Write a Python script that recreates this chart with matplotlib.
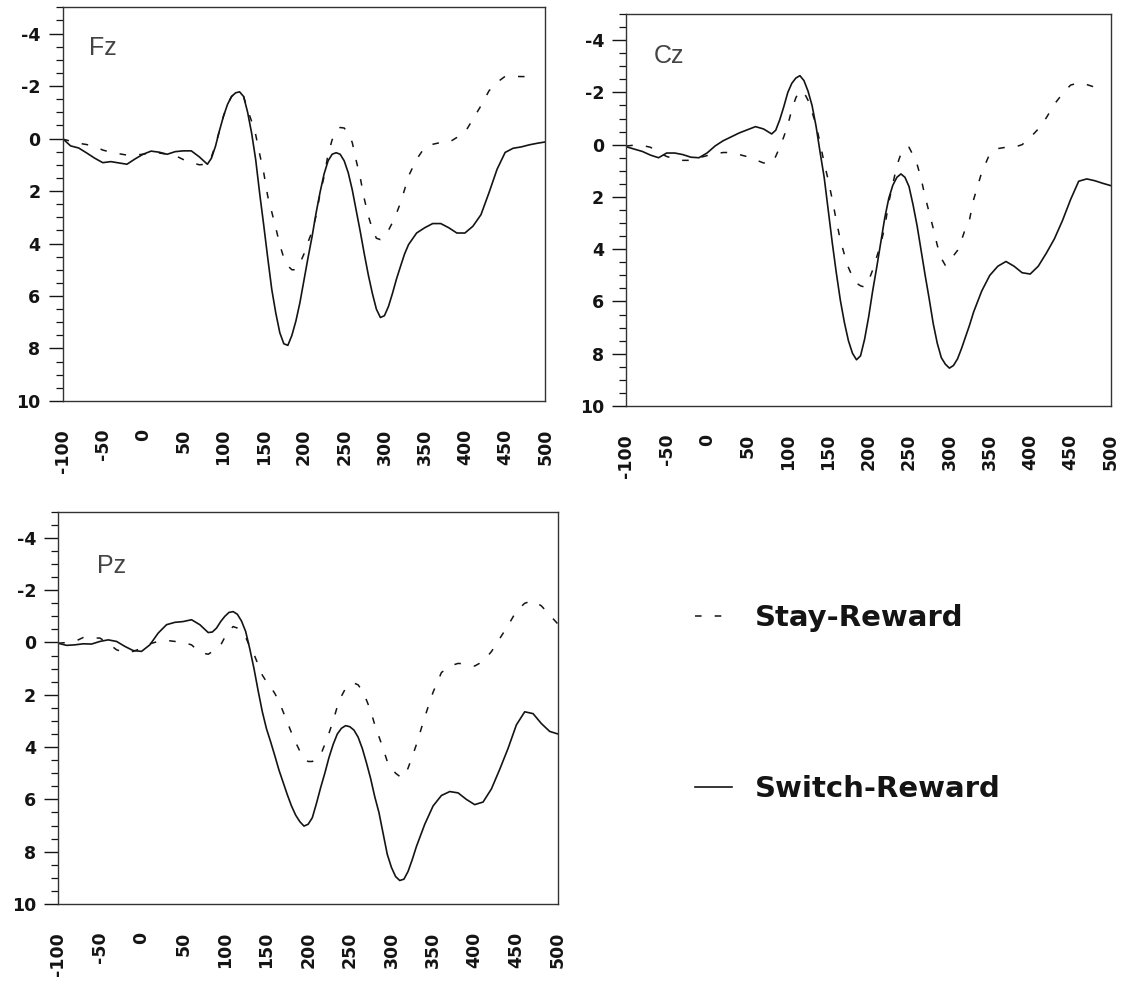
import numpy as np
import matplotlib
matplotlib.use("Agg")
import matplotlib.pyplot as plt
from matplotlib.ticker import MultipleLocator

plt.rcParams['font.family'] = ['Liberation Sans', 'DejaVu Sans']

nan = np.nan

# sample times (ms): 10 ms steps, 5 ms around the components
times = np.concatenate([np.arange(-100, 80, 10),
                        np.arange(80, 331, 5),
                        np.arange(340, 501, 10)])

# Fz (uV, negative plotted up)
fz_stay = [0.02, 0.1, 0.18, 0.23, 0.3, 0.44, 0.52, 0.58, 0.63, 0.63,
           0.6, 0.55, 0.55, 0.6, 0.65, 0.8, 0.92, 1.0,
           0.98, 0.7, 0.25, -0.3, -0.85, -1.3, -1.6, -1.74, -1.76, -1.6,
           -1.1, -0.65, -0.15, 0.6, 1.3, 2.2, 2.8, 3.4, 4.05, 4.55,
           4.85, 5.0, 5.0, 4.75, 4.4, 3.95, 3.55, 2.95, 2.1, 1.45,
           0.6, 0.05, -0.3, -0.42, -0.4, -0.2, 0.15, 0.85, 1.5, 2.3,
           2.95, 3.45, 3.8, 3.85, 3.72, 3.5, 3.2, 2.85, 2.45, 1.95,
           1.43,
           0.79, 0.34, 0.22, 0.15, 0.15, -0.04, -0.23, -0.74, -1.25, -1.82,
           -2.14, -2.37, -2.37, -2.36, -2.36, nan, nan]
fz_switch = [0.0, 0.28, 0.36, 0.55, 0.75, 0.92, 0.88, 0.93, 0.98, 0.78,
             0.6, 0.48, 0.52, 0.6, 0.5, 0.47, 0.47, 0.7,
             0.98, 0.75, 0.3, -0.3, -0.85, -1.3, -1.6, -1.74, -1.78, -1.6,
             -1.0, -0.2, 0.8, 2.1, 3.3, 4.55, 5.75, 6.65, 7.4, 7.82,
             7.88, 7.5, 6.95, 6.25, 5.4, 4.55, 3.75, 2.85, 2.05, 1.35,
             0.85, 0.6, 0.54, 0.6, 0.85, 1.3, 1.95, 2.75, 3.55, 4.4,
             5.2, 5.9, 6.5, 6.82, 6.75, 6.4, 5.9, 5.35, 4.87, 4.4,
             4.04,
             3.6, 3.4, 3.24, 3.24, 3.4, 3.6, 3.6, 3.34, 2.9, 2.06,
             1.17, 0.53, 0.37, 0.32, 0.24, 0.18, 0.13]

# Cz
cz_stay = [0.05, 0.02, 0.03, 0.1, 0.3, 0.45, 0.55, 0.6, 0.6, 0.5,
           0.42, 0.35, 0.3, 0.3, 0.38, 0.46, 0.58, 0.7,
           0.7, 0.45, 0.1, -0.3, -0.75, -1.35, -1.8, -2.06, -2.0, -1.7,
           -1.25, -0.75, -0.05, 0.7, 1.35, 2.1, 2.9, 3.65, 4.2, 4.7,
           5.05, 5.3, 5.4, 5.45, 5.2, 4.8, 4.3, 3.8, 3.15, 2.2,
           1.5, 0.8, 0.35, 0.1, 0.1, 0.4, 0.75, 1.3, 2.0, 2.6,
           3.2, 3.85, 4.35, 4.62, 4.45, 4.25, 4.05, 3.65, 3.2, 2.85,
           2.1,
           1.06, 0.35, 0.15, 0.1, 0.1, 0.0, -0.27, -0.6, -1.03, -1.55,
           -1.95, -2.28, -2.36, -2.3, -2.2, -2.1, nan]
cz_switch = [0.08, 0.17, 0.26, 0.4, 0.5, 0.32, 0.32, 0.38, 0.48, 0.5,
             0.32, 0.05, -0.15, -0.3, -0.45, -0.57, -0.69, -0.6,
             -0.41, -0.55, -0.95, -1.45, -2.0, -2.35, -2.55, -2.64, -2.45, -2.05,
             -1.5, -0.7, 0.3, 1.25, 2.5, 3.75, 4.9, 5.95, 6.8, 7.5,
             7.98, 8.23, 8.08, 7.45, 6.6, 5.6, 4.7, 3.75, 2.8, 2.05,
             1.55, 1.25, 1.12, 1.25, 1.6, 2.3, 3.1, 4.05, 5.0, 5.9,
             6.85, 7.6, 8.15, 8.4, 8.55, 8.45, 8.2, 7.8, 7.35, 6.9,
             6.4,
             5.6, 5.0, 4.65, 4.47, 4.65, 4.9, 4.95, 4.65, 4.15, 3.6,
             2.9, 2.1, 1.4, 1.31, 1.38, 1.48, 1.57]

# Pz
pz_stay = [0.03, 0.0, -0.04, -0.19, -0.17, -0.17, 0.03, 0.28, 0.38, 0.34,
           0.22, 0.05, -0.04, -0.08, -0.04, 0.0, 0.09, 0.38,
           0.45, 0.35, 0.2, 0.1, -0.2, -0.45, -0.61, -0.55, -0.4, -0.2,
           0.15, 0.45, 0.85, 1.25, 1.5, 1.7, 1.95, 2.25, 2.65, 3.05,
           3.45, 3.82, 4.15, 4.45, 4.55, 4.55, 4.45, 4.3, 3.9, 3.47,
           3.0, 2.45, 2.05, 1.75, 1.6, 1.55, 1.62, 1.85, 2.2, 2.6,
           3.15, 3.6, 4.05, 4.55, 4.8, 5.0, 5.12, 5.15, 4.8, 4.36,
           3.9,
           2.85, 1.9, 1.15, 0.9, 0.8, 0.82, 0.9, 0.72, 0.35, -0.15,
           -0.65, -1.2, -1.5, -1.6, -1.4, -1.05, -0.7]
pz_switch = [0.03, 0.11, 0.09, 0.05, 0.06, -0.04, -0.1, -0.04, 0.15, 0.31,
             0.34, 0.09, -0.36, -0.68, -0.77, -0.8, -0.87, -0.68,
             -0.38, -0.4, -0.55, -0.8, -1.0, -1.15, -1.18, -1.08, -0.82, -0.42,
             0.25, 1.0, 1.85, 2.65, 3.3, 3.8, 4.33, 4.88, 5.35, 5.82,
             6.25, 6.6, 6.85, 7.02, 6.95, 6.7, 6.15, 5.55, 5.0, 4.4,
             3.9, 3.5, 3.28, 3.18, 3.22, 3.35, 3.62, 4.05, 4.6, 5.2,
             5.9, 6.5, 7.3, 8.1, 8.6, 8.95, 9.1, 9.05, 8.75, 8.3,
             7.8,
             6.95, 6.25, 5.85, 5.7, 5.75, 6.0, 6.2, 6.1, 5.6, 4.85,
             4.05, 3.15, 2.65, 2.72, 3.1, 3.4, 3.5]

xticks = np.arange(-100, 501, 50)
yticks = np.arange(-4, 11, 2)

fig = plt.figure(figsize=(11.31, 9.85), dpi=100)

panels = [
    ("Fz", fz_stay, fz_switch, [0.0553, 0.5929, 0.4269, 0.3997], (-67, -3.18)),
    ("Cz", cz_stay, cz_switch, [0.5537, 0.5878, 0.4286, 0.3980], (-65.5, -3.14)),
    ("Pz", pz_stay, pz_switch, [0.0515, 0.0822, 0.4419, 0.3983], (-54, -2.67)),
]

ink = "#141414"
bold = {"family": ["DejaVu Sans"], "weight": "bold"}
for name, stay, switch, rect, txt in panels:
    ax = fig.add_axes(rect)
    l1, = ax.plot(times, stay, color=ink, lw=1.1, linestyle=(0, (4.3, 8.6)),
                  label="Stay-Reward")
    l2, = ax.plot(times, switch, color=ink, lw=1.2, label="Switch-Reward")
    ax.set_xlim(-100, 500)
    ax.set_ylim(10, -5)
    ax.set_xticks(xticks)
    ax.set_xticklabels([str(v) for v in xticks], rotation=90,
                       fontsize=12.5, **bold)
    ax.set_yticks(yticks)
    ax.set_yticklabels([str(v) for v in yticks], fontsize=12.5, **bold)
    ax.yaxis.set_minor_locator(MultipleLocator(0.5))
    ax.tick_params(axis="x", length=0, pad=20, colors=ink)
    ax.tick_params(axis="y", which="major", length=10, width=1.0,
                   pad=6, colors=ink)
    ax.tick_params(axis="y", which="minor", length=5, width=0.9, colors=ink)
    for sp in ax.spines.values():
        sp.set_color("#333333")
        sp.set_linewidth(1.0)
    ax.text(txt[0], txt[1], name, fontsize=18, color="#444444",
            ha="left", va="baseline")

fig.legend(handles=[l1, l2], loc="upper left",
           bbox_to_anchor=(0.6145, 0.3868), frameon=False,
           prop={"family": ["DejaVu Sans"], "size": 21, "weight": "bold"},
           handlelength=1.27, handletextpad=0.79, labelspacing=4.9,
           borderpad=0, borderaxespad=0, labelcolor=ink)

fig.savefig("out.png", dpi=100, facecolor="white")
